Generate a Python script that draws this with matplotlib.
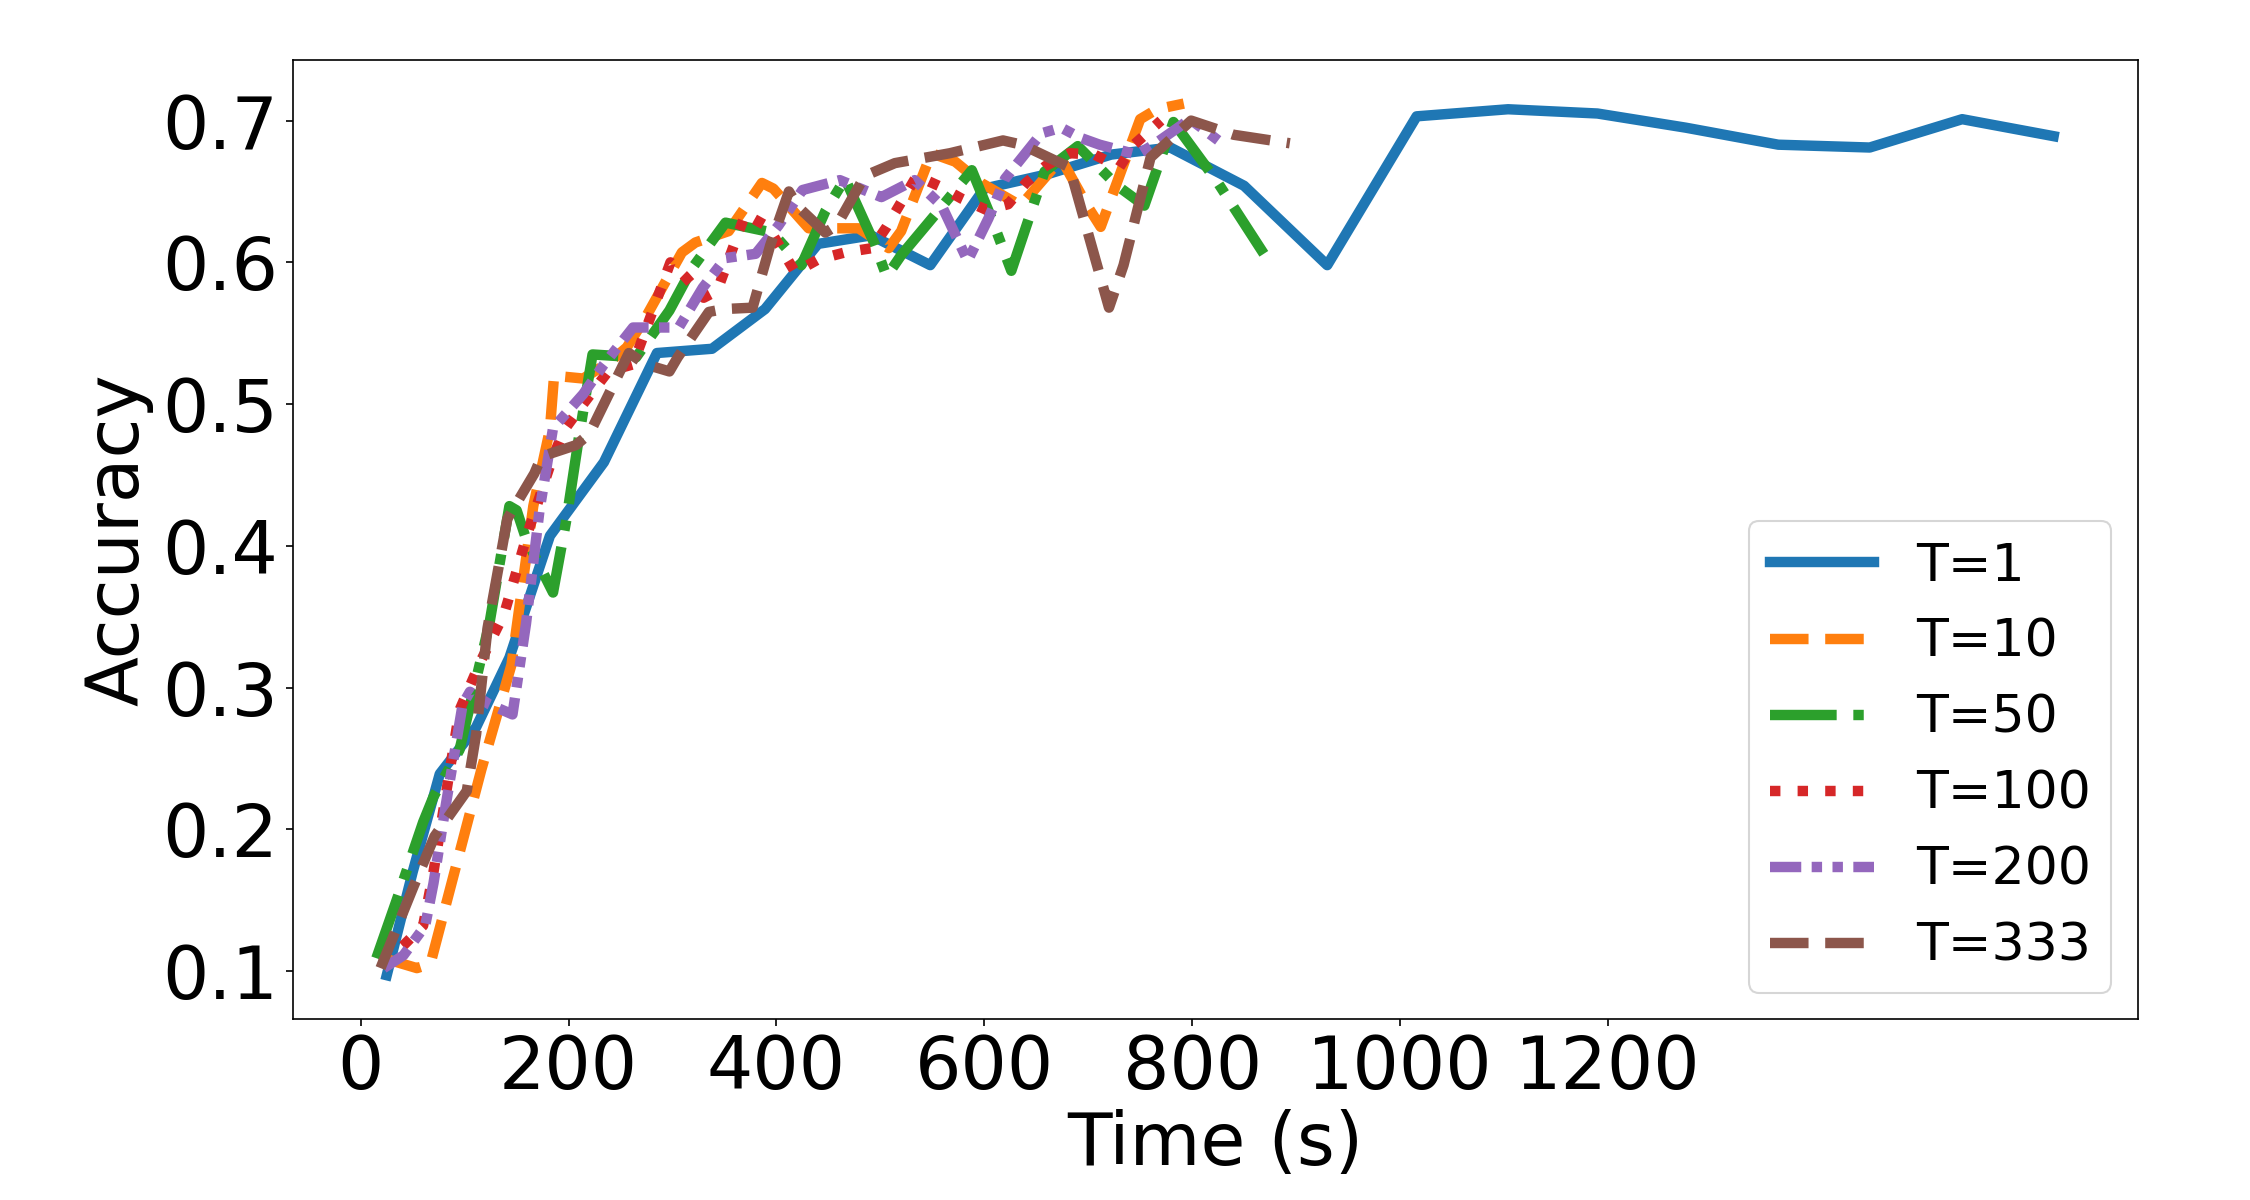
import matplotlib
matplotlib.use("Agg")
import matplotlib.pyplot as plt

# accuracy vs wall-clock time for different T
t1_x = [25, 50, 76, 111, 143, 182, 234, 285, 338, 389, 440, 491, 548, 600, 660, 722, 779,
        850, 930, 1016, 1104, 1190, 1275, 1364, 1452, 1541, 1629]
t1_y = [0.097, 0.170, 0.239, 0.272, 0.321, 0.407, 0.459, 0.536, 0.539, 0.567, 0.613, 0.619,
        0.598, 0.652, 0.662, 0.676, 0.681, 0.654, 0.598, 0.703, 0.708, 0.705, 0.695, 0.683,
        0.681, 0.701, 0.689]

t10_x = [22, 54, 67, 116, 145, 166, 182, 186, 214, 240, 256, 274, 309, 322, 354, 386, 397,
         431, 479, 508, 520, 549, 572, 597, 635, 674, 699, 712, 750, 766, 792]
t10_y = [0.109, 0.102, 0.105, 0.242, 0.316, 0.428, 0.482, 0.520, 0.518, 0.530, 0.540, 0.561,
         0.607, 0.614, 0.622, 0.656, 0.652, 0.624, 0.624, 0.610, 0.622, 0.677, 0.671, 0.656,
         0.640, 0.673, 0.640, 0.625, 0.701, 0.708, 0.712]

t50_x = [15, 35, 60, 70, 95, 124, 143, 150, 159, 185, 198, 210, 223, 265, 297, 319, 351, 396,
         424, 447, 466, 495, 506, 520, 552, 588, 607, 626, 658, 690, 728, 754, 782, 824, 869]
t50_y = [0.109, 0.151, 0.205, 0.223, 0.256, 0.346, 0.428, 0.425, 0.405, 0.367, 0.419, 0.477,
         0.535, 0.533, 0.566, 0.596, 0.628, 0.621, 0.598, 0.636, 0.659, 0.612, 0.590, 0.605,
         0.633, 0.665, 0.631, 0.594, 0.664, 0.682, 0.654, 0.640, 0.699, 0.657, 0.606]

t100_x = [20, 41, 60, 70, 82, 95, 115, 138, 161, 185, 196, 214, 238, 262, 298, 312, 330, 343,
          370, 392, 418, 440, 466, 492, 506, 535, 556, 578, 602, 623, 640, 659, 682, 706, 730,
          744, 770]
t100_y = [0.105, 0.118, 0.132, 0.170, 0.225, 0.284, 0.318, 0.352, 0.410, 0.463, 0.482, 0.500,
          0.523, 0.528, 0.600, 0.590, 0.575, 0.580, 0.634, 0.625, 0.593, 0.602, 0.607, 0.610,
          0.625, 0.661, 0.654, 0.645, 0.637, 0.641, 0.656, 0.668, 0.677, 0.676, 0.667, 0.683,
          0.700]

t200_x = [22, 41, 62, 70, 82, 98, 105, 124, 146, 159, 172, 185, 214, 234, 262, 292, 306, 329,
          351, 380, 402, 425, 461, 501, 533, 559, 584, 604, 620, 655, 674, 692, 711, 747, 763,
          798, 827]
t200_y = [0.102, 0.111, 0.132, 0.162, 0.218, 0.288, 0.297, 0.288, 0.281, 0.345, 0.425, 0.483,
          0.507, 0.528, 0.554, 0.554, 0.554, 0.582, 0.603, 0.606, 0.626, 0.651, 0.658, 0.646,
          0.658, 0.640, 0.601, 0.631, 0.659, 0.691, 0.695, 0.688, 0.683, 0.676, 0.683, 0.701,
          0.685]

t333_x = [19, 51, 71, 102, 111, 122, 141, 167, 174, 207, 220, 258, 274, 297, 305, 335, 349,
          377, 394, 412, 421, 447, 458, 485, 514, 567, 618, 636, 682, 720, 734, 760, 799, 840,
          894]
t333_y = [0.102, 0.160, 0.195, 0.227, 0.267, 0.342, 0.419, 0.451, 0.463, 0.471, 0.479, 0.536,
          0.528, 0.523, 0.533, 0.565, 0.567, 0.568, 0.612, 0.650, 0.639, 0.621, 0.626, 0.661,
          0.670, 0.677, 0.686, 0.683, 0.667, 0.568, 0.598, 0.674, 0.700, 0.690, 0.684]

x_ticks = [0, 200, 400, 600, 800, 1000, 1200]
y_ticks = [0.1, 0.2, 0.3, 0.4, 0.5, 0.6, 0.7]

fig = plt.figure(figsize=(15, 8), dpi=150)
ax = fig.add_axes([0.130, 0.151, 0.820, 0.799])

lw = 5
ax.plot(t1_x, t1_y, '-', lw=lw, label='T=1')
ax.plot(t10_x, t10_y, '--', lw=lw, label='T=10')
ax.plot(t50_x, t50_y, '-.', lw=lw, label='T=50')
ax.plot(t100_x, t100_y, ':', lw=lw, label='T=100')
ax.plot(t200_x, t200_y, lw=lw, dashes=[3, 1, 1, 1, 1, 1], label='T=200')
ax.plot(t333_x, t333_y, '--', lw=lw, label='T=333')

ax.set_xticks(x_ticks)
ax.set_yticks(y_ticks)
ax.tick_params(labelsize=35)
ax.set_xlabel('Time (s)', fontsize=35, labelpad=2)
ax.set_ylabel('Accuracy', fontsize=35)
ax.legend(loc='lower right', fontsize=25)

fig.savefig('out.png', dpi=150)
